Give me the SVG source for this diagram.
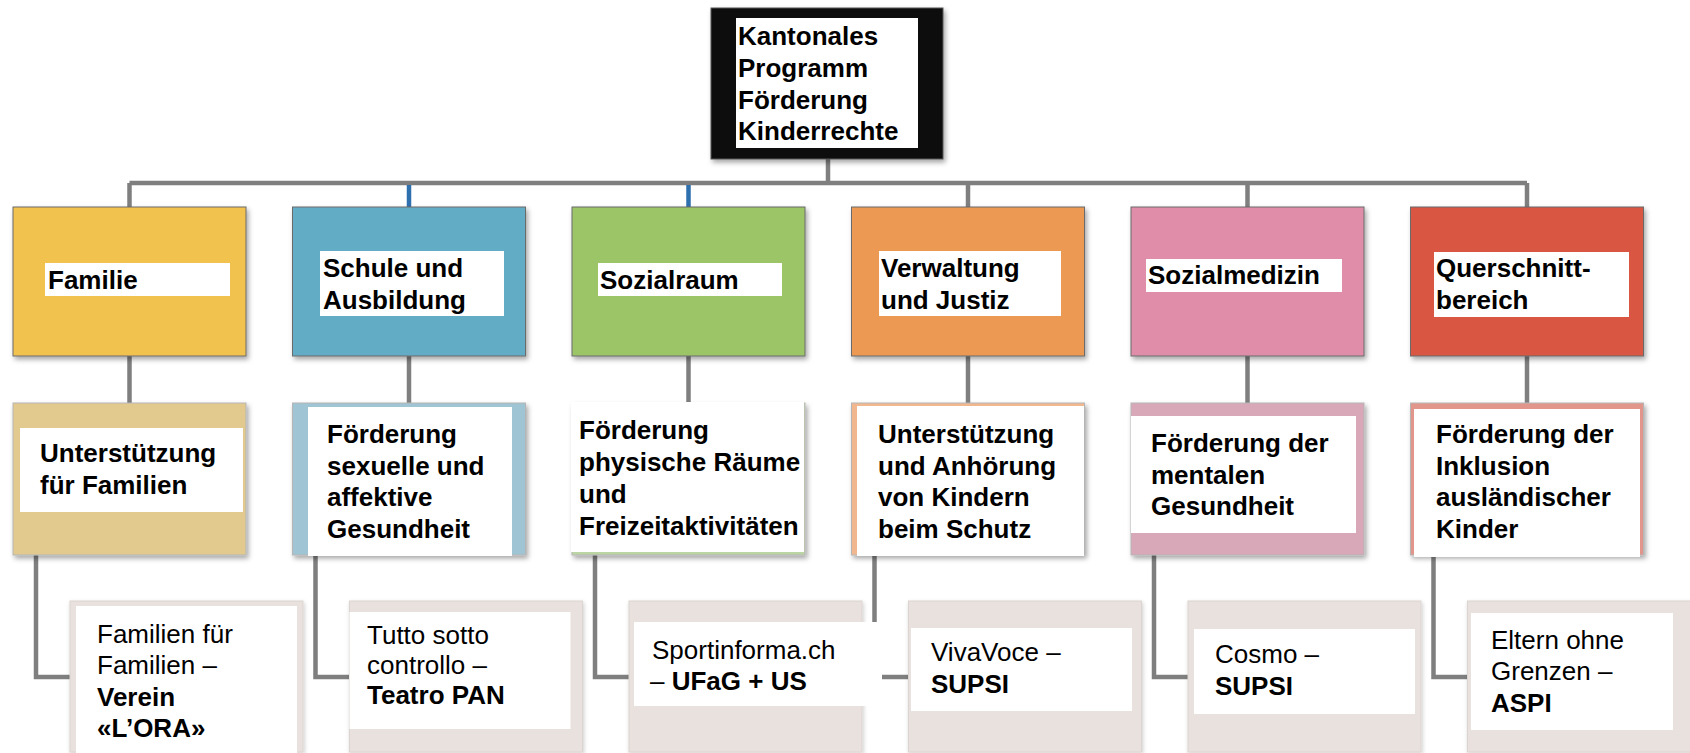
<svg xmlns="http://www.w3.org/2000/svg" width="1690" height="753" viewBox="0 0 1690 753">
  <defs>
    <filter id="sh" x="-10%" y="-10%" width="125%" height="130%">
      <feDropShadow dx="2" dy="3" stdDeviation="2.5" flood-color="#000" flood-opacity="0.35"/>
    </filter>
    <filter id="sh2" x="-10%" y="-10%" width="125%" height="130%">
      <feDropShadow dx="1" dy="2" stdDeviation="2" flood-color="#000" flood-opacity="0.2"/>
    </filter>
  </defs>
  <style>
    text { font-family: "Liberation Sans", Arial, sans-serif; font-size: 26px; fill: #000; }
    .b { font-weight: bold; }
    .conn { stroke: #7f7f7f; stroke-width: 4.5; fill: none; }
    .blue { stroke: #2e6fad; }
    .lbl { fill: #fff; }
    .l1 { stroke: #6b6b6b; stroke-width: 1; filter: url(#sh); }
    .l2 { stroke: #b5b5b5; stroke-width: 1; filter: url(#sh); }
    .l3 { fill: #e9e1dd; stroke: #dcd4d0; stroke-width: 1; filter: url(#sh2); }
  </style>
  <rect width="1690" height="753" fill="#fff"/>

  <g id="connectors">
    <path class="conn" d="M828,159 V183"/>
    <path class="conn" d="M129.5,183 H1527"/>
    <path class="conn" d="M129.5,183 V207"/>
    <path class="conn blue" d="M409,185 V207"/>
    <path class="conn blue" d="M688.5,185 V207"/>
    <path class="conn" d="M968,183 V207"/>
    <path class="conn" d="M1247.5,183 V207"/>
    <path class="conn" d="M1527,183 V207"/>
    <path class="conn" d="M129.5,356 V403"/>
    <path class="conn" d="M409,356 V403"/>
    <path class="conn" d="M688.5,356 V403"/>
    <path class="conn" d="M968,356 V403"/>
    <path class="conn" d="M1247.5,356 V403"/>
    <path class="conn" d="M1527,356 V403"/>
    <path class="conn" d="M36,555 V677 H70"/>
    <path class="conn" d="M315.5,555 V677 H349.5"/>
    <path class="conn" d="M595,555 V677 H629"/>
    <path class="conn" d="M874.5,555 V677 H908.5"/>
    <path class="conn" d="M1154,555 V677 H1188"/>
    <path class="conn" d="M1433.5,555 V677 H1467.5"/>
  </g>

  <g id="root">
    <rect x="711" y="8" width="232" height="151" fill="#111" stroke="#555" stroke-width="1" filter="url(#sh)"/>
    <rect class="lbl" x="736" y="18" width="182" height="130"/>
    <text class="b" x="738" y="45">Kantonales</text>
    <text class="b" x="738" y="77">Programm</text>
    <text class="b" x="738" y="108.5">Förderung</text>
    <text class="b" x="738" y="140">Kinderrechte</text>
  </g>

  <g id="familie">
    <rect class="l1" x="13" y="207" width="233" height="149" fill="#f2c24f"/>
    <rect class="lbl" x="45" y="263" width="185" height="33"/>
    <text class="b" x="48" y="289">Familie</text>
  </g>
  <g id="schule">
    <rect class="l1" x="292.5" y="207" width="233" height="149" fill="#64acc5"/>
    <rect class="lbl" x="320" y="251" width="184" height="65"/>
    <text class="b" x="323" y="277">Schule und</text>
    <text class="b" x="323" y="309">Ausbildung</text>
  </g>
  <g id="sozialraum">
    <rect class="l1" x="572" y="207" width="233" height="149" fill="#9bc566"/>
    <rect class="lbl" x="598" y="263" width="184" height="33"/>
    <text class="b" x="600" y="289">Sozialraum</text>
  </g>
  <g id="verwaltung">
    <rect class="l1" x="851.5" y="207" width="233" height="149" fill="#ec9a52"/>
    <rect class="lbl" x="879" y="251" width="182" height="65"/>
    <text class="b" x="881" y="277">Verwaltung</text>
    <text class="b" x="881" y="309">und Justiz</text>
  </g>
  <g id="sozialmedizin">
    <rect class="l1" x="1131" y="207" width="233" height="149" fill="#e08da9"/>
    <rect class="lbl" x="1146" y="259" width="196" height="33"/>
    <text class="b" x="1148" y="284">Sozialmedizin</text>
  </g>
  <g id="querschnitt">
    <rect class="l1" x="1410.5" y="207" width="233" height="149" fill="#d85643"/>
    <rect class="lbl" x="1434" y="252" width="195" height="65"/>
    <text class="b" x="1436" y="277">Querschnitt-</text>
    <text class="b" x="1436" y="309">bereich</text>
  </g>

  <g id="familie-2">
    <rect class="l2" x="13" y="403" width="233" height="152" fill="#e2c98e"/>
    <rect class="lbl" x="20" y="428" width="223" height="84"/>
    <text class="b" x="40" y="462">Unterstützung</text>
    <text class="b" x="40" y="494">für Familien</text>
  </g>
  <g id="schule-2">
    <rect class="l2" x="292.5" y="403" width="233" height="152" fill="#9fc5d4"/>
    <rect class="lbl" x="308" y="407" width="204" height="149"/>
    <text class="b" x="327" y="443">Förderung</text>
    <text class="b" x="327" y="474.5">sexuelle und</text>
    <text class="b" x="327" y="506">affektive</text>
    <text class="b" x="327" y="537.5">Gesundheit</text>
  </g>
  <g id="sozialraum-2">
    <rect class="l2" x="572" y="403" width="233" height="152" fill="#bcd5a4"/>
    <rect class="lbl" x="571" y="402" width="233" height="150"/>
    <text class="b" x="579" y="439">Förderung</text>
    <text class="b" x="579" y="471">physische Räume</text>
    <text class="b" x="579" y="503">und</text>
    <text class="b" x="579" y="535">Freizeitaktivitäten</text>
  </g>
  <g id="verwaltung-2">
    <rect class="l2" x="851.5" y="403" width="233" height="152" fill="#f1b88f"/>
    <rect class="lbl" x="857" y="406" width="227" height="150"/>
    <text class="b" x="878" y="443">Unterstützung</text>
    <text class="b" x="878" y="474.5">und Anhörung</text>
    <text class="b" x="878" y="506">von Kindern</text>
    <text class="b" x="878" y="537.5">beim Schutz</text>
  </g>
  <g id="sozialmedizin-2">
    <rect class="l2" x="1131" y="403" width="233" height="152" fill="#d8a8b8"/>
    <rect class="lbl" x="1131" y="416" width="225" height="117"/>
    <text class="b" x="1151" y="452">Förderung der</text>
    <text class="b" x="1151" y="483.5">mentalen</text>
    <text class="b" x="1151" y="515">Gesundheit</text>
  </g>
  <g id="querschnitt-2">
    <rect class="l2" x="1410.5" y="403" width="233" height="152" fill="#e2968b"/>
    <rect class="lbl" x="1414" y="409" width="226" height="148"/>
    <text class="b" x="1436" y="443">Förderung der</text>
    <text class="b" x="1436" y="474.5">Inklusion</text>
    <text class="b" x="1436" y="506">ausländischer</text>
    <text class="b" x="1436" y="537.5">Kinder</text>
  </g>

  <g id="familie-3">
    <rect class="l3" x="70" y="601" width="233" height="151"/>
    <rect class="lbl" x="76" y="606" width="221" height="147"/>
    <text x="97" y="643">Familien für</text>
    <text x="97" y="674">Familien –</text>
    <text class="b" x="97" y="706">Verein</text>
    <text class="b" x="97" y="737">«L’ORA»</text>
  </g>
  <g id="schule-3">
    <rect class="l3" x="349.5" y="601" width="233" height="151"/>
    <rect class="lbl" x="349.5" y="612" width="221" height="117"/>
    <text x="367" y="644">Tutto sotto</text>
    <text x="367" y="674">controllo –</text>
    <text class="b" x="367" y="704">Teatro PAN</text>
  </g>
  <g id="sozialraum-3">
    <rect class="l3" x="629" y="601" width="233" height="151"/>
    <rect class="lbl" x="634" y="622" width="248" height="84"/>
    <text x="652" y="659">Sportinforma.ch</text>
    <text x="650" y="690">– <tspan class="b">UFaG + US</tspan></text>
  </g>
  <g id="verwaltung-3">
    <rect class="l3" x="908.5" y="601" width="233" height="151"/>
    <rect class="lbl" x="911" y="628" width="221" height="83"/>
    <text x="931" y="661">VivaVoce –</text>
    <text class="b" x="931" y="693">SUPSI</text>
  </g>
  <g id="sozialmedizin-3">
    <rect class="l3" x="1188" y="601" width="233" height="151"/>
    <rect class="lbl" x="1194" y="629" width="221" height="85"/>
    <text x="1215" y="663">Cosmo –</text>
    <text class="b" x="1215" y="695">SUPSI</text>
  </g>
  <g id="querschnitt-3">
    <rect class="l3" x="1467.5" y="601" width="233" height="151"/>
    <rect class="lbl" x="1471" y="613" width="202" height="117"/>
    <text x="1491" y="649">Eltern ohne</text>
    <text x="1491" y="680">Grenzen –</text>
    <text class="b" x="1491" y="712">ASPI</text>
  </g>
</svg>
